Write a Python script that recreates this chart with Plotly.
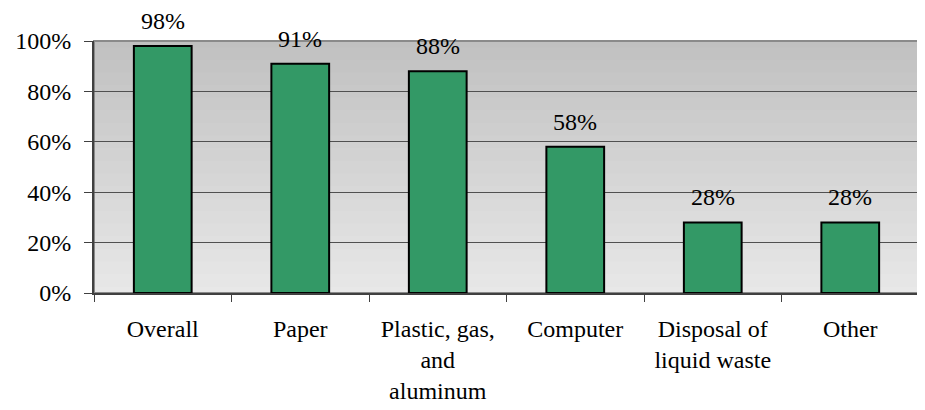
import plotly.graph_objects as go

categories = ["Overall", "Paper", "Plastic, gas,<br>and<br>aluminum", "Computer",
              "Disposal of<br>liquid waste", "Other"]
values = [98, 91, 88, 58, 28, 28]
value_labels = ["98%", "91%", "88%", "58%", "28%", "28%"]
y_ticks = [0, 20, 40, 60, 80, 100]
y_tick_labels = ["0%", "20%", "40%", "60%", "80%", "100%"]

FONT = "Liberation Serif, serif"
FS = 24
fig = go.Figure()
fig.add_trace(go.Bar(
    x=categories, y=values,
    marker=dict(color="#339966", line=dict(color="#000000", width=2)),
    width=0.42, hoverinfo="skip",
))

for c, v, t in zip(categories, values, value_labels):
    fig.add_annotation(x=c, y=v, text=t, showarrow=False, yanchor="bottom",
                       yshift=10, font=dict(family=FONT, size=FS, color="#000"))

# gradient plot background
n = 40
top, bot = 192, 232
shapes = []
for i in range(n):
    g = int(round(bot + (top - bot) * (i + 0.5) / n))
    shapes.append(dict(type="rect", xref="x domain", yref="y domain",
                       x0=0, x1=1, y0=i / n, y1=min(1, (i + 1) / n + 0.01),
                       fillcolor=f"rgb({g},{g},{g})", line=dict(width=0),
                       layer="below"))
shapes.append(dict(type="rect", xref="x domain", yref="y domain", x0=0, x1=1,
                   y0=0, y1=1, line=dict(color="#8a8a8a", width=2), layer="below"))

fig.update_layout(
    width=917, height=402,
    margin=dict(l=86, r=6, t=33, b=117, autoexpand=False),
    paper_bgcolor="white", plot_bgcolor="rgba(0,0,0,0)",
    showlegend=False, shapes=shapes,
    font=dict(family=FONT, size=FS, color="#000"),
    xaxis=dict(showgrid=False, showline=True, linecolor="#404040", linewidth=2,
               ticks="outside", tickson="boundaries", ticklen=7, tickcolor="#404040",
               tickwidth=1, tickfont=dict(family=FONT, size=FS), ticklabelstandoff=13,
               automargin=False, fixedrange=True),
    yaxis=dict(range=[0, 100], tickvals=y_ticks, ticktext=y_tick_labels,
               showgrid=True, gridcolor="#505050", gridwidth=1,
               showline=True, linecolor="#404040", linewidth=2,
               ticks="outside", ticklen=8, tickcolor="#404040", tickwidth=1,
               tickfont=dict(family=FONT, size=FS), ticklabelstandoff=8,
               automargin=False, zeroline=False, fixedrange=True),
)
fig.write_html("out.html")
